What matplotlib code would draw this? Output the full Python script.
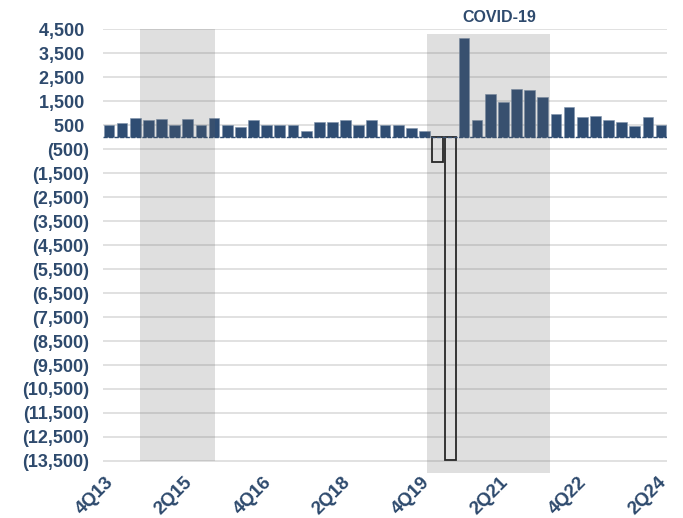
import numpy as np
from matplotlib import pyplot as plt
from matplotlib.transforms import ScaledTranslation

# trimestres (4Q13 .. 2Q24)
trimestres = ['4Q13',
              '1Q14', '2Q14', '3Q14', '4Q14', '1Q15', '2Q15', '3Q15', '4Q15',
              '1Q16', '2Q16', '3Q16', '4Q16', '1Q17', '2Q17', '3Q17', '4Q17',
              '1Q18', '2Q18', '3Q18', '4Q18', '1Q19', '2Q19', '3Q19', '4Q19',
              '1Q20', '2Q20', '3Q20', '4Q20', '1Q21', '2Q21', '3Q21', '4Q21',
              '1Q22', '2Q22', '3Q22', '4Q22', '1Q23', '2Q23', '3Q23', '4Q23',
              '1Q24', '2Q24']
valores = [500, 570, 800, 700, 750, 500, 750, 500, 800, 500,
           430, 700, 500, 500, 500, 250, 625, 625, 700, 500,
           700, 500, 500, 375, 250, -1050, -13450, 4125, 700, 1800,
           1450, 2000, 1950, 1680, 950, 1250, 820, 875, 700, 625,
           450, 820, 500]
rotulos_x = ['4Q13', '2Q15', '4Q16', '2Q18', '4Q19', '2Q21', '4Q22', '2Q24']
ticks_y = [4500, 3500, 2500, 1500, 500, -500, -1500, -2500, -3500, -4500,
           -5500, -6500, -7500, -8500, -9500, -10500, -11500, -12500, -13500]
# periodos sombreados (inicio, fim, topo, base)
sombras = [(2.4, 8.1, 4500, -13500), (24.2, 33.55, 4290, -14000)]

azul = '#2f4d73'
texto = '#2e4a6d'

fig = plt.figure(figsize=(6.83, 5.18), dpi=100)
ax = fig.add_axes([0.1508, 0.0869, 0.8258, 0.857])

x = np.arange(len(valores))
for i, v in zip(x, valores):
    if v < 0:
        ax.bar(i, v, width=0.82, facecolor='none', edgecolor='#1a1a1a', linewidth=1.3, zorder=2)
    else:
        ax.bar(i, v, width=0.82, color=azul, edgecolor='#7f93aa', linewidth=0.4, zorder=2)

for ini, fim, topo, base in sombras:
    ax.fill_between([ini, fim], base, topo, color='#606060', alpha=0.2, linewidth=0, zorder=3)

for t in ticks_y:
    ax.axhline(t, color='#d9d9d9', linewidth=1.1, zorder=0.5)
ax.axhline(0, color=azul, linewidth=1, linestyle=(0, (3, 1)), zorder=2.5)

ax.text(29.7, 5000, 'COVID-19', ha='center', va='center', fontsize=11.5, fontweight='bold',
        color=texto, family=['Liberation Sans Narrow', 'Liberation Sans'], clip_on=False)

ax.set_xlim(-0.45, 42.45)
ax.set_ylim(-14000, 4500)

def fmt(v):
    if v < 0:
        return '({:,})'.format(-v)
    return '{:,} '.format(v)

ax.set_yticks(ticks_y)
ax.set_yticklabels([fmt(t) for t in ticks_y])
ax.set_xticks([trimestres.index(r) for r in rotulos_x])
ax.set_xticklabels(rotulos_x, rotation=45, ha='right', va='center', rotation_mode='anchor')

for s in ax.spines.values():
    s.set_visible(False)
ax.tick_params(axis='both', length=0)
ax.tick_params(axis='y', pad=10)
ax.tick_params(axis='x', pad=5)
desloc = ScaledTranslation(1.5 / 72, 0, fig.dpi_scale_trans)
for lab in ax.get_yticklabels() + ax.get_xticklabels():
    lab.set_family('Liberation Sans')
    lab.set_fontweight('bold')
    lab.set_color(texto)
for lab in ax.get_yticklabels():
    lab.set_fontsize(13)
for lab in ax.get_xticklabels():
    lab.set_fontsize(13.5)
    lab.set_transform(lab.get_transform() + desloc)

plt.savefig('out.png', dpi=100)
